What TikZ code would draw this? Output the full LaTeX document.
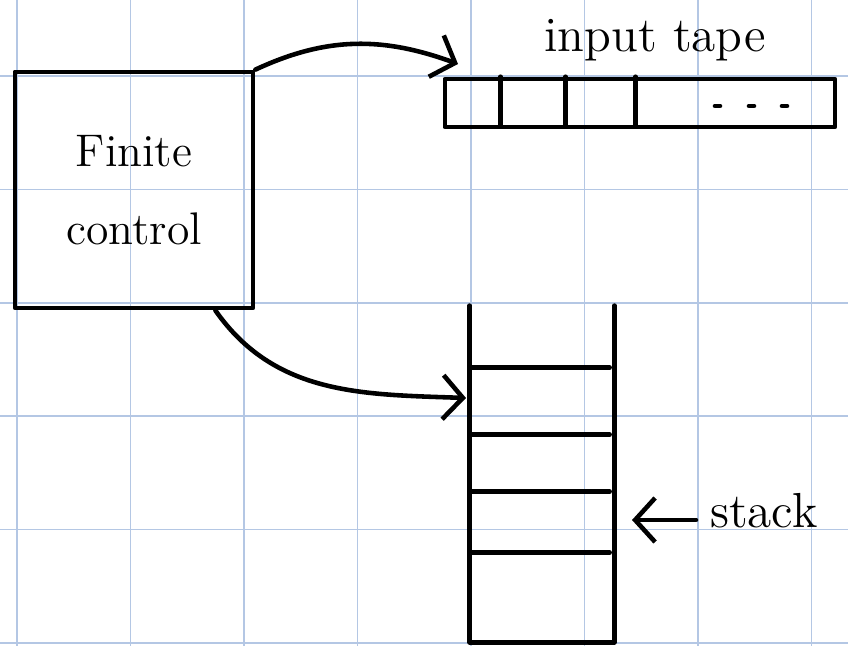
\documentclass[tikz,border=0pt]{standalone}
\usepackage{fontspec}
\usepackage{tikz}
\usetikzlibrary{positioning,arrows.meta}
\definecolor{cuadricula}{RGB}{180,199,228}

\begin{document}
\begin{tikzpicture}[x=0.01cm, y=-0.01cm,
    line width=1.3pt, line cap=round, line join=round,
    every node/.style={font=\fontsize{14}{17}\selectfont},
    caja/.style={draw, rectangle, inner sep=0pt},
    flecha/.style={-{Straight Barb[length=2mm,width=4.4mm]}}]
    \useasboundingbox (0,0) rectangle (848,646);

    % Cuadricula de fondo
    \foreach \x in {0,...,7}
      \draw[cuadricula, line width=0.5pt] (17+113.5*\x,0) -- (17+113.5*\x,646);
    \foreach \y in {0,...,5}
      \draw[cuadricula, line width=0.5pt] (0,76+113.4*\y) -- (848,76+113.4*\y);

    % Control finito
    \node[caja, minimum width=2.38cm, minimum height=2.36cm, align=center,
          font=\fontsize{13}{22}\selectfont] (fc) at (134,190) {Finite\\control};

    % Cinta de entrada y sus celdas
    \node[caja, minimum width=3.9cm, minimum height=0.48cm] (tape) at (640,103) {};
    \foreach \dx in {58,123,193}
      \draw (tape.north west) ++(\dx,0) -- ++(0,48);
    \foreach \x in {718,752,785}
      \draw (\x-3,106) -- (\x+2,106);
    \node[anchor=base] (tapelbl) at (655,52) {input tape};

    % Pila (abierta arriba)
    \node[minimum width=1.4cm, minimum height=3.32cm, inner sep=0pt] (stack) at (542,474) {};
    \draw (stack.north west) -- (stack.south west) -- (stack.south east) -- (stack.north east);
    \foreach \dy in {62,129,186,247}
      \draw (stack.north west) ++(0,\dy) -- ++(140,0);
    \node[anchor=base west] (stacklbl) at (696,528) {stack};

    % Flechas
    \coordinate (tapein) at (458,64);
    \coordinate (stackin) at (466,398);
    \coordinate (stackptr) at (632,520);
    \draw[flecha] (fc.north east) to[out=25, in=160] (tapein);
    \draw[flecha] ([xshift=-4mm]fc.south east) to[out=-55, in=178] (stackin);
    \draw[flecha] (stacklbl.west |- stackptr) -- (stackptr);
\end{tikzpicture}
\end{document}
